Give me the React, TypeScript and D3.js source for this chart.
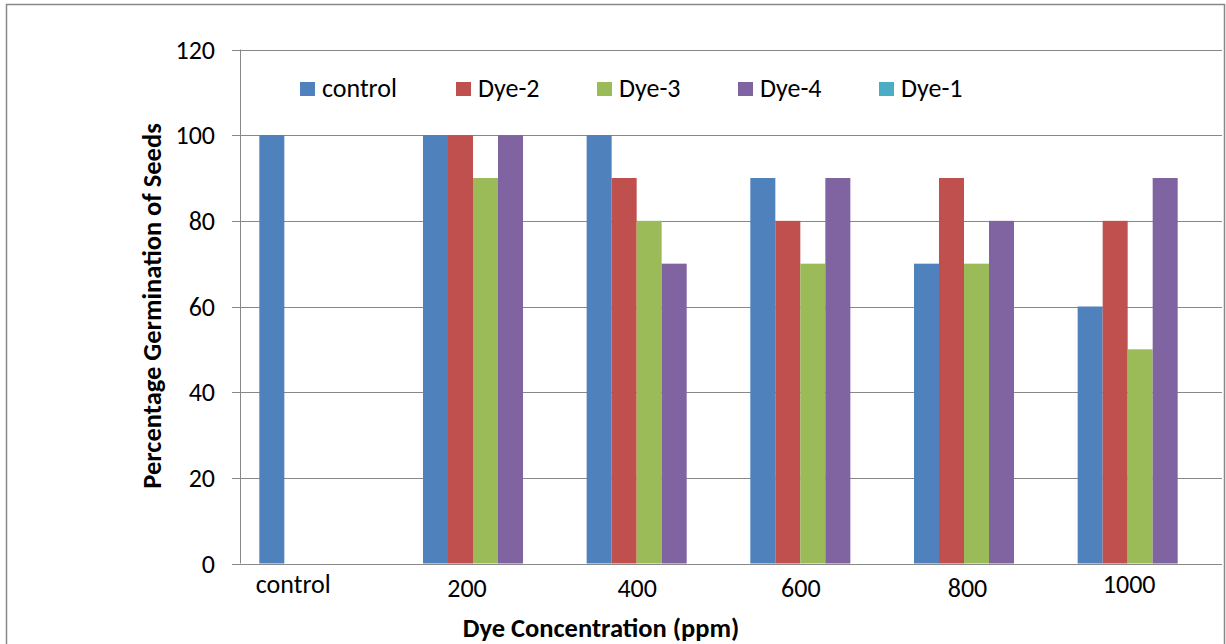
import React from "react";
import * as d3 from "d3";

const categories = ["control", "200", "400", "600", "800", "1000"];
const seriesNames = ["control", "Dye-2", "Dye-3", "Dye-4", "Dye-1"];
const controlValues: (number | null)[] = [100, 100, 100, 90, 70, 60];
const dye2Values: (number | null)[] = [null, 100, 90, 80, 90, 80];
const dye3Values: (number | null)[] = [null, 90, 80, 70, 70, 50];
const dye4Values: (number | null)[] = [null, 100, 70, 90, 80, 90];
const dye1Values: (number | null)[] = [null, null, null, null, null, null];
const yTicks = [0, 20, 40, 60, 80, 100, 120];
const colors = ["#4F81BD", "#C0504D", "#9BBB59", "#8064A2", "#4BACC6"];

const allSeries = [controlValues, dye2Values, dye3Values, dye4Values, dye1Values];

export default function App() {
  const W = 1226, H = 644;
  const left = 240, right = 1222, top = 49.5, bottom = 563.5;
  const font = "Carlito, 'Open Sans', 'Noto Sans', sans-serif";

  const x = d3.scaleBand<string>().domain(categories).range([left, right]).paddingInner(0.236).paddingOuter(0.118);
  const inner = d3.scaleBand<string>().domain(seriesNames).range([0, x.bandwidth()]);
  const y = d3.scaleLinear().domain([0, 120]).range([bottom, top]);

  // label placement nudges (as rendered in the reference)
  const labelDx = [-28.5, -18.5, -12, -12, -9, -11];
  const labelY = [584, 588, 588, 588, 588, 584];
  const legendX = [300, 456, 597, 738, 879];

  return (
    <svg width={W} height={H} style={{ position: "absolute", left: 0, top: 0, background: "#fff" }}>
      <rect x={6.5} y={4.5} width={1218} height={660} fill="#fff" stroke="#888" strokeWidth={1.5} />
      {yTicks.map((t) => (
        <g key={t}>
          {t > 0 && <line x1={left} x2={right} y1={Math.round(y(t)) + 0.5} y2={Math.round(y(t)) + 0.5} stroke="#888" strokeWidth={1} />}
          <line x1={232} x2={left} y1={Math.round(y(t)) + 0.5} y2={Math.round(y(t)) + 0.5} stroke="#888" />
          <text x={215} y={y(t)} dy="0.35em" textAnchor="end" fontFamily={font} fontSize={26} fill="#000">{t}</text>
        </g>
      ))}
      {allSeries.map((vals, si) =>
        vals.map((v, ci) =>
          v == null ? null : (
            <rect key={`${si}-${ci}`} x={(x(categories[ci]) as number) + (inner(seriesNames[si]) as number)} y={y(v)} width={inner.bandwidth()} height={y(0) - y(v)} fill={colors[si]} />
          )
        )
      )}
      <line x1={left + 0.5} x2={left + 0.5} y1={top} y2={bottom} stroke="#888" />
      <line x1={232} x2={right} y1={Math.round(bottom) + 0.5} y2={Math.round(bottom) + 0.5} stroke="#888" />
      {categories.map((c, i) => (
        <text key={c} x={(x(c) as number) + x.bandwidth() / 2 + labelDx[i]} y={labelY[i]} dy="0.35em" textAnchor="middle" fontFamily={font} fontSize={26} fill="#000">{c}</text>
      ))}
      {seriesNames.map((s, i) => (
        <g key={s}>
          <rect x={legendX[i]} y={82} width={15} height={14} fill={colors[i]} />
          <text x={legendX[i] + 22} y={88} dy="0.35em" fontFamily={font} fontSize={26} fill="#000">{s}</text>
        </g>
      ))}
      <text x={601} y={628} dy="0.35em" textAnchor="middle" fontFamily={font} fontSize={26.5} fontWeight="bold" fill="#000">Dye Concentration (ppm)</text>
      <text transform={`translate(152,306) rotate(-90)`} dy="0.35em" textAnchor="middle" fontFamily={font} fontSize={26.5} fontWeight="bold" fill="#000">Percentage Germination of Seeds</text>
    </svg>
  );
}
